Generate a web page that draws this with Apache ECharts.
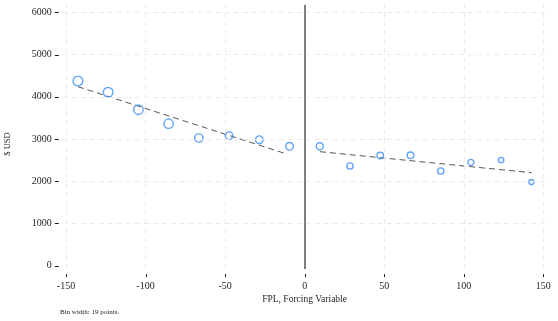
<!DOCTYPE html>
<html>
<head>
<meta charset="utf-8">
<script src="https://cdn.jsdelivr.net/npm/echarts@6/dist/echarts.min.js"></script>
<style>html,body{margin:0;padding:0;background:#fff}#c{width:558px;height:321px}</style>
</head>
<body>
<div id="c"></div>
<script>
// Bin centres (bin width 19) and bin means
const binX = [-142.5, -123.5, -104.5, -85.5, -66.5, -47.5, -28.5, -9.5,
               9.5, 28.5, 47.5, 66.5, 85.5, 104.5, 123.5, 142.5];
const binY = [4374, 4106, 3694, 3363, 3024, 3078, 2984, 2827,
              2827, 2361, 2610, 2614, 2243, 2448, 2503, 1982];
// relative bin weight (drives marker size)
const binWeight = [10.7, 10.7, 10.5, 10.3, 9.3, 8.7, 8.7, 8.7,
                   8.0, 7.3, 7.5, 7.7, 7.3, 7.0, 6.3, 6.0];
// fitted lines (left / right of cutoff)
const fitLeftX = [-142.5, -11.3];
const fitLeftY = [4239, 2645];
const fitRightX = [9.6, 142.7];
const fitRightY = [2700, 2202];
// tick labels
const xTicks = [-150, -100, -50, 0, 50, 100, 150];
const yTicks = [0, 1000, 2000, 3000, 4000, 5000, 6000];
const yGrid = [1000, 2000, 3000, 4000, 5000, 6000];

const FONT = 'Liberation Serif';
const TXT = '#1e1e1e';
const gridStyle = {type: [5, 4], color: '#ebebeb', width: 1};

const markData = [];
xTicks.forEach(v => {
  if (v === 0) markData.push({xAxis: v, lineStyle: {type: 'solid', color: '#555', width: 1.5}});
  else markData.push({xAxis: v, lineStyle: gridStyle});
});
yGrid.forEach(v => markData.push({yAxis: v, lineStyle: gridStyle}));

const X_MIN = -152, X_MAX = 152, Y_MIN = -80, Y_MAX = 6180;
const chart = echarts.init(document.getElementById('c'), null, {renderer: 'canvas'});
const baseGraphics = [
  {type: 'text', x: 304.6, y: 299, style: {text: 'FPL, Forcing Variable', fontFamily: FONT, fontSize: 9.5, fill: TXT, textAlign: 'center', textVerticalAlign: 'middle'}},
  {type: 'text', x: 8, y: 144, rotation: Math.PI / 2, style: {text: '$ USD', fontFamily: FONT, fontSize: 8.5, fill: TXT, textAlign: 'center', textVerticalAlign: 'middle'}},
  {type: 'text', x: 60, y: 312.3, style: {text: 'Bin width: 19 points.', fontFamily: FONT, fontSize: 7, fill: TXT, textAlign: 'left', textVerticalAlign: 'middle'}}
];
chart.setOption({
  animation: false,
  backgroundColor: '#fff',
  textStyle: {fontFamily: FONT},
  grid: {left: 62.8, right: 558 - 546.5, top: 4.7, bottom: 321 - 269.1, containLabel: false},
  xAxis: {
    type: 'value', min: X_MIN, max: X_MAX,
    offset: 5,
    axisLine: {show: false},
    axisTick: {show: false},
    axisLabel: {customValues: xTicks, margin: 7, fontFamily: FONT, fontSize: 10, color: TXT, formatter: v => String(v)},
    splitLine: {show: false}
  },
  yAxis: {
    type: 'value', min: Y_MIN, max: Y_MAX,
    offset: 4,
    axisLine: {show: false},
    axisTick: {show: false},
    axisLabel: {customValues: yTicks, margin: 7, fontFamily: FONT, fontSize: 10, color: TXT, formatter: v => String(v)},
    splitLine: {show: false}
  },
  graphic: baseGraphics,
  series: [
    {
      type: 'line', data: [], silent: true, z: 1,
      markLine: {silent: true, symbol: ['none', 'none'], label: {show: false}, animation: false, data: markData}
    },
    {
      type: 'line', z: 3, silent: true, symbol: 'none',
      data: fitLeftX.map((x, i) => [x, fitLeftY[i]]),
      lineStyle: {color: '#555', width: 1, type: [6, 4]}
    },
    {
      type: 'line', z: 3, silent: true, symbol: 'none',
      data: fitRightX.map((x, i) => [x, fitRightY[i]]),
      lineStyle: {color: '#555', width: 1, type: [6, 4]}
    },
    {
      type: 'scatter', z: 4, silent: true,
      data: binX.map((x, i) => [x, binY[i], binWeight[i]]),
      symbol: 'circle',
      symbolSize: d => d[2] - 1,
      itemStyle: {color: 'rgba(0,0,0,0)', borderColor: '#3a8ef2', borderWidth: 1.4}
    }
  ]
});
// tick marks placed through the library's own scales
const yBottom = chart.convertToPixel({yAxisIndex: 0}, Y_MIN);
const xLeft = chart.convertToPixel({xAxisIndex: 0}, X_MIN);
const ticks = [];
xTicks.forEach(v => {
  const px = Math.round(chart.convertToPixel({xAxisIndex: 0}, v)) + 0.5;
  ticks.push({type: 'line', shape: {x1: px, y1: yBottom + 5, x2: px, y2: yBottom + 8}, style: {stroke: TXT, lineWidth: 1}});
});
yTicks.forEach(v => {
  const py = Math.round(chart.convertToPixel({yAxisIndex: 0}, v)) + 0.5;
  ticks.push({type: 'line', shape: {x1: xLeft - 8, y1: py, x2: xLeft - 4, y2: py}, style: {stroke: TXT, lineWidth: 1}});
});
chart.setOption({graphic: baseGraphics.concat(ticks)});
</script>
</body>
</html>
